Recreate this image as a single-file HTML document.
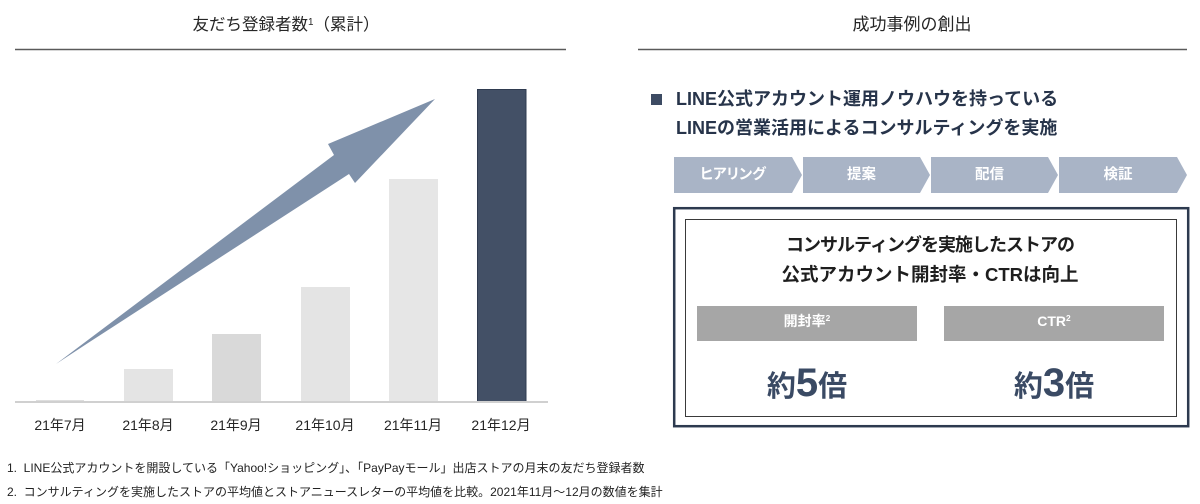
<!DOCTYPE html>
<html><head><meta charset="utf-8">
<style>
*{margin:0;padding:0;box-sizing:border-box}
body{width:1200px;height:504px;background:#fff;position:relative;overflow:hidden;font-family:"Liberation Sans","Noto Sans CJK JP",sans-serif;color:#262626}
.t{position:absolute;white-space:nowrap}
.c{text-align:center}
svg{position:absolute;left:0;top:0}
sup{font-size:0.6em;vertical-align:0;position:relative;top:-0.55em}
.chev{position:absolute;top:157px;height:36px;line-height:36px;color:#fff;font-weight:bold;font-size:14.5px;text-align:center;font-feature-settings:"palt"}
</style></head><body>
<svg width="1200" height="504" viewBox="0 0 1200 504">
  <line x1="15" y1="49.5" x2="566" y2="49.5" stroke="#5a5a5a" stroke-width="1.5"/>
  <line x1="638" y1="49.5" x2="1187" y2="49.5" stroke="#5a5a5a" stroke-width="1.5"/>
  <rect x="36" y="400" width="48" height="2" fill="#dedede"/>
  <rect x="124" y="369" width="49" height="33" fill="#e4e4e4"/>
  <rect x="212" y="334" width="49" height="68" fill="#d9d9d9"/>
  <rect x="301" y="287" width="49" height="115" fill="#e4e4e4"/>
  <rect x="389" y="179" width="49" height="223" fill="#e6e6e6"/>
  <rect x="477.5" y="89.5" width="48.5" height="312" fill="#435066" stroke="#2f3b50" stroke-width="1"/>
  <line x1="15" y1="402" x2="548" y2="402" stroke="#d0d0d0" stroke-width="2"/>
  <polygon points="56,364 334,155 328,144 435,99 355,183 349,174 88,343" fill="#7f91aa"/>
  <rect x="651" y="94" width="11" height="11" fill="#3d4b63"/>
  <polygon points="674,157 792,157 802,175 792,193 674,193" fill="#a9b4c6"/>
  <polygon points="803,157 920,157 930,175 920,193 803,193" fill="#a9b4c6"/>
  <polygon points="931,157 1048,157 1058,175 1048,193 931,193" fill="#a9b4c6"/>
  <polygon points="1059,157 1177,157 1187,175 1177,193 1059,193" fill="#a9b4c6"/>
  <rect x="674.2" y="208.2" width="514" height="218" fill="none" stroke="#2d3a4f" stroke-width="2.5"/>
  <rect x="685.5" y="219.5" width="491" height="197" fill="none" stroke="#3a3a3a" stroke-width="1"/>
  <rect x="697" y="306" width="220" height="35" fill="#a6a6a6"/>
  <rect x="944" y="306" width="220" height="35" fill="#a6a6a6"/>
</svg>

<div class="t c" style="left:0;width:572px;top:14px;line-height:22px;font-size:16.5px;">友だち登録者数<sup>1</sup>（累計）</div>
<div class="t c" style="left:812px;width:200px;top:14px;line-height:22px;font-size:17px;">成功事例の創出</div>

<div class="t c" style="left:20px;width:80px;top:416px;line-height:18px;font-size:14px;">21年7月</div>
<div class="t c" style="left:108px;width:80px;top:416px;line-height:18px;font-size:14px;">21年8月</div>
<div class="t c" style="left:196px;width:80px;top:416px;line-height:18px;font-size:14px;">21年9月</div>
<div class="t c" style="left:285px;width:80px;top:416px;line-height:18px;font-size:14px;">21年10月</div>
<div class="t c" style="left:373px;width:80px;top:416px;line-height:18px;font-size:14px;">21年11月</div>
<div class="t c" style="left:461px;width:80px;top:416px;line-height:18px;font-size:14px;">21年12月</div>

<div class="t" style="left:7px;top:459px;line-height:18px;font-size:12px;color:#222;">1.&nbsp; LINE公式アカウントを開設している「Yahoo!ショッピング」、「PayPayモール」出店ストアの月末の友だち登録者数</div>
<div class="t" style="left:7px;top:483px;line-height:18px;font-size:12px;color:#222;">2.&nbsp; コンサルティングを実施したストアの平均値とストアニュースレターの平均値を比較。2021年11月～12月の数値を集計</div>

<div class="t" style="left:676px;top:88px;line-height:22px;font-size:18px;font-weight:bold;color:#27344a;">LINE公式アカウント運用ノウハウを持っている</div>
<div class="t" style="left:676px;top:117px;line-height:22px;font-size:18px;font-weight:bold;color:#27344a;">LINEの営業活用によるコンサルティングを実施</div>

<div class="chev" style="left:674px;width:118px;">ヒアリング</div>
<div class="chev" style="left:803px;width:117px;">提案</div>
<div class="chev" style="left:931px;width:117px;">配信</div>
<div class="chev" style="left:1059px;width:118px;">検証</div>

<div class="t c" style="left:730px;width:400px;top:233px;line-height:24px;font-size:18px;font-weight:bold;letter-spacing:-1px;color:#1e1e1e;">コンサルティングを実施したストアの</div>
<div class="t c" style="left:730px;width:400px;top:263px;line-height:24px;font-size:18.5px;font-weight:bold;color:#1e1e1e;">公式アカウント開封率・CTRは向上</div>

<div class="t c" style="left:697px;width:220px;top:311px;line-height:20px;font-size:14px;font-weight:bold;color:#fff;">開封率<sup>2</sup></div>
<div class="t c" style="left:944px;width:220px;top:311px;line-height:20px;font-size:14px;font-weight:bold;color:#fff;">CTR<sup>2</sup></div>

<div class="t c" style="left:707px;width:200px;top:360px;line-height:46px;font-weight:bold;color:#3a4a64;"><span style="font-size:29px;">約</span><span style="font-size:40px;">5</span><span style="font-size:29px;">倍</span></div>
<div class="t c" style="left:954px;width:200px;top:360px;line-height:46px;font-weight:bold;color:#3a4a64;"><span style="font-size:29px;">約</span><span style="font-size:40px;">3</span><span style="font-size:29px;">倍</span></div>
</body></html>
